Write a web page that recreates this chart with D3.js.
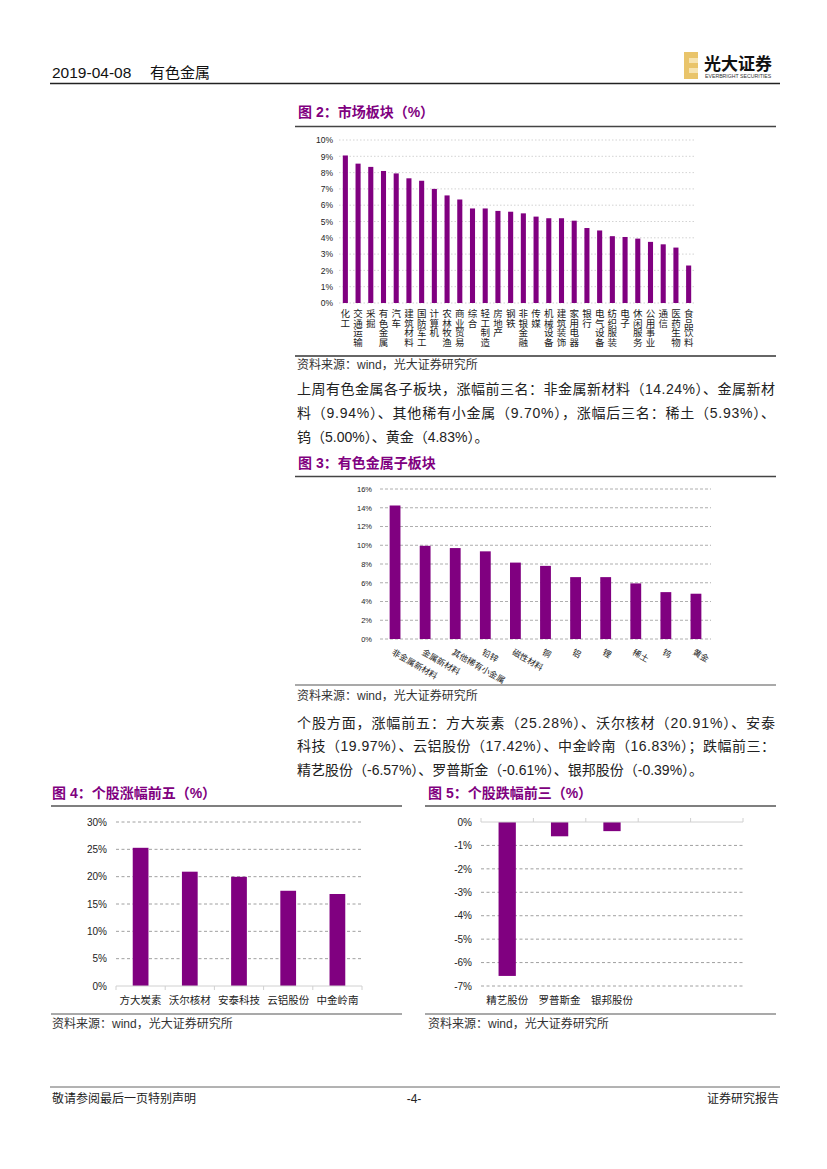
<!DOCTYPE html>
<html>
<head>
<meta charset="utf-8">
<title>有色金属 2019-04-08</title>
<script src="https://cdnjs.cloudflare.com/ajax/libs/d3/7.8.5/d3.min.js"></script>
<style>
body { margin: 0; background: #fff; }
svg text { font-family: "Liberation Sans", "Noto Sans CJK SC", sans-serif; }
</style>
</head>
<body>
<svg id="page" width="827" height="1169"></svg>
<script>
// 图2 市场板块 (%)
var sectorNames = ["化工", "交通运输", "采掘", "有色金属", "汽车", "建筑材料", "国防军工", "计算机",
  "农林牧渔", "商业贸易", "综合", "轻工制造", "房地产", "钢铁", "非银金融", "传媒", "机械设备",
  "建筑装饰", "家用电器", "银行", "电气设备", "纺织服装", "电子", "休闲服务", "公用事业", "通信",
  "医药生物", "食品饮料"];
var sectorValues = [9.05, 8.55, 8.35, 8.1, 7.95, 7.65, 7.5, 7.0, 6.6, 6.35, 5.8, 5.8, 5.65, 5.6,
  5.5, 5.3, 5.2, 5.2, 5.05, 4.6, 4.45, 4.1, 4.05, 3.95, 3.75, 3.6, 3.4, 2.3];
var sectorTicks = [0, 1, 2, 3, 4, 5, 6, 7, 8, 9, 10];

// 图3 有色金属子板块
var subNames = ["非金属新材料", "金属新材料", "其他稀有小金属", "铅锌", "磁性材料", "铜", "铝", "锂", "稀土", "钨", "黄金"];
var subValues = [14.24, 9.94, 9.70, 9.35, 8.15, 7.8, 6.6, 6.6, 5.93, 5.00, 4.83];
var subTicks = [0, 2, 4, 6, 8, 10, 12, 14, 16];

// 图4 个股涨幅前五
var gainNames = ["方大炭素", "沃尔核材", "安泰科技", "云铝股份", "中金岭南"];
var gainValues = [25.28, 20.91, 19.97, 17.42, 16.83];
var gainTicks = [0, 5, 10, 15, 20, 25, 30];

// 图5 个股跌幅前三 (two empty slots on the axis)
var lossNames = ["精艺股份", "罗普斯金", "银邦股份", "", " "];
var lossValues = [-6.57, -0.61, -0.39, null, null];
var lossTicks = [0, -1, -2, -3, -4, -5, -6, -7];

var purple = "#800080";
var svg = d3.select("#page");

// shared bar chart: grid, y labels, bars
function barChart(o) {
  var g = svg.append("g");
  var x = d3.scaleBand().domain(o.names).range([o.left, o.right]);
  var y = d3.scaleLinear().domain(o.domain).range([o.bottom, o.top]);

  g.selectAll("line.grid").data(o.ticks).enter().append("line")
    .attr("class", "grid")
    .attr("x1", o.left).attr("x2", o.right)
    .attr("y1", function(d) { return y(d); })
    .attr("y2", function(d) { return y(d); })
    .attr("stroke", o.gridColor)
    .attr("stroke-width", 0.8)
    .attr("stroke-dasharray", o.dash);

  var ax = d3.axisLeft(y).tickValues(o.ticks).tickSize(0).tickPadding(o.pad)
    .tickFormat(function(d) { return d + "%"; });
  var a = g.append("g").attr("transform", "translate(" + o.left + ",0)").call(ax);
  a.select(".domain").remove();
  a.attr("font-family", "Liberation Sans, sans-serif").attr("font-size", o.fs);
  a.selectAll("text").attr("fill", "#222");

  g.selectAll("rect.bar").data(o.values).enter().append("rect")
    .attr("class", "bar")
    .filter(function(d) { return d !== null; })
    .attr("x", function(d, i) { return x(o.names[i]) + x.bandwidth() * (1 - o.ratio) / 2; })
    .attr("width", x.bandwidth() * o.ratio)
    .attr("y", function(d) { return y(Math.max(0, d)); })
    .attr("height", function(d) { return Math.abs(y(d) - y(0)); })
    .attr("fill", purple);

  return { g: g, x: x, y: y };
}

function hline(x1, x2, yy, color, w) {
  svg.append("line").attr("x1", x1).attr("x2", x2).attr("y1", yy).attr("y2", yy)
    .attr("stroke", color).attr("stroke-width", w);
}

function title(txt, xx, yy) {
  svg.append("text").attr("x", xx).attr("y", yy).text(txt)
    .attr("font-size", 14).attr("font-weight", "bold").attr("fill", purple);
}

function source(xx, yy) {
  svg.append("text").attr("x", xx).attr("y", yy).text("资料来源：wind，光大证券研究所")
    .attr("font-size", 12).attr("fill", "#333");
}

function para(lines, xx, ys, width) {
  lines.forEach(function(t, i) {
    var el = svg.append("text").attr("x", xx).attr("y", ys[i]).text(t)
      .attr("font-size", 14).attr("fill", "#222");
    if (i < lines.length - 1) el.attr("textLength", width).attr("lengthAdjust", "spacing");
  });
}

// header
svg.append("text").attr("x", 52).attr("y", 78).text("2019-04-08")
  .attr("font-size", 15.5).attr("fill", "#111");
svg.append("text").attr("x", 150).attr("y", 78).text("有色金属")
  .attr("font-size", 15).attr("fill", "#111").attr("font-family", "Noto Sans CJK SC");
hline(50, 780, 83.5, "#222", 1.5);
// logo
svg.append("rect").attr("x", 684).attr("y", 52).attr("width", 14).attr("height", 27).attr("fill", "#E9C46A");
svg.append("rect").attr("x", 689).attr("y", 58).attr("width", 9).attr("height", 5).attr("fill", "#F6E3B0");
svg.append("rect").attr("x", 689).attr("y", 68).attr("width", 9).attr("height", 5).attr("fill", "#F6E3B0");
svg.append("text").attr("x", 704).attr("y", 70).text("光大证券")
  .attr("font-size", 17).attr("font-weight", "bold").attr("fill", "#111").attr("font-family", "Noto Sans CJK SC");
svg.append("text").attr("x", 705).attr("y", 78).text("EVERBRIGHT SECURITIES")
  .attr("font-size", 5.2).attr("fill", "#333").attr("font-family", "Liberation Serif");

// 图2
title("图 2：市场板块（%）", 298, 117);
hline(295, 776, 126.5, "#444", 1.5);
var c2 = barChart({
  names: sectorNames, values: sectorValues, ticks: sectorTicks, domain: [0, 10],
  left: 339, right: 695, top: 140, bottom: 303, ratio: 0.4, pad: 6, fs: 8.5,
  gridColor: "#c8c8c8", dash: "1.5,2"
});
sectorNames.forEach(function(n) {
  var cx = c2.x(n) + c2.x.bandwidth() / 2;
  var t = c2.g.append("text").attr("text-anchor", "middle").attr("font-size", 9.5)
    .attr("fill", "#222").attr("font-family", "Noto Sans CJK SC");
  n.split("").forEach(function(ch, k) {
    t.append("tspan").attr("x", cx).attr("y", 317 + k * 9.6).text(ch);
  });
});
hline(295, 776, 356, "#333", 1.5);
source(297, 369);

para([
  "上周有色金属各子板块，涨幅前三名：非金属新材料（14.24%）、金属新材",
  "料（9.94%）、其他稀有小金属（9.70%），涨幅后三名：稀土（5.93%）、",
  "钨（5.00%）、黄金（4.83%）。"
], 297, [394, 418, 442], 478);

// 图3
title("图 3：有色金属子板块", 298, 468);
hline(295, 776, 476.5, "#444", 1.5);
var c3 = barChart({
  names: subNames, values: subValues, ticks: subTicks, domain: [0, 16],
  left: 380, right: 711, top: 489, bottom: 639, ratio: 0.36, pad: 8, fs: 7.5,
  gridColor: "#999", dash: "3,2"
});
subNames.forEach(function(n) {
  var cx = c3.x(n) + c3.x.bandwidth() / 2 - 4;
  c3.g.append("text").attr("transform", "translate(" + cx + ",654) rotate(30)")
    .attr("font-size", 8.5).attr("fill", "#222").attr("font-family", "Noto Sans CJK SC")
    .text(n);
});
hline(295, 776, 685, "#555", 1.2);
source(297, 700);

para([
  "个股方面，涨幅前五：方大炭素（25.28%）、沃尔核材（20.91%）、安泰",
  "科技（19.97%）、云铝股份（17.42%）、中金岭南（16.83%）；跌幅前三：",
  "精艺股份（-6.57%）、罗普斯金（-0.61%）、银邦股份（-0.39%）。"
], 297, [728, 751, 775], 478);

// 图4
title("图 4：个股涨幅前五（%）", 52, 798);
hline(51, 402, 806, "#555", 1.5);
var c4 = barChart({
  names: gainNames, values: gainValues, ticks: gainTicks.slice(1), domain: [0, 30],
  left: 116, right: 362, top: 822, bottom: 986, ratio: 0.32, pad: 9, fs: 10,
  gridColor: "#888", dash: "3,2.5"
});
c4.g.append("g").attr("transform", "translate(116,0)")
  .call(d3.axisLeft(c4.y).tickValues([0]).tickSize(0).tickPadding(9).tickFormat(function(d) { return d + "%"; }))
  .attr("font-family", "Liberation Sans, sans-serif").attr("font-size", 10)
  .call(function(s) { s.select(".domain").remove(); s.selectAll("text").attr("fill", "#222"); });
hline(116, 362, 986, "#d0d0d0", 1);
c4.g.selectAll("line.tk").data(d3.range(gainNames.length + 1)).enter().append("line")
  .attr("x1", function(i) { return 116 + i * c4.x.step(); })
  .attr("x2", function(i) { return 116 + i * c4.x.step(); })
  .attr("y1", 986).attr("y2", 990).attr("stroke", "#d0d0d0");
c4.g.selectAll("text.cat").data(gainNames).enter().append("text")
  .attr("x", function(d) { return c4.x(d) + c4.x.bandwidth() / 2; })
  .attr("y", 1004).attr("text-anchor", "middle").attr("font-size", 10.5)
  .attr("fill", "#222").attr("font-family", "Noto Sans CJK SC").text(function(d) { return d; });
hline(51, 402, 1014, "#555", 1.2);
source(52, 1028);

// 图5
title("图 5：个股跌幅前三（%）", 428, 798);
hline(425, 776, 806, "#555", 1.5);
var c5 = barChart({
  names: lossNames, values: lossValues, ticks: lossTicks.slice(1), domain: [-7, 0],
  left: 481, right: 743, top: 822, bottom: 986, ratio: 0.33, pad: 9, fs: 10,
  gridColor: "#888", dash: "3,2.5"
});
c5.g.append("g").attr("transform", "translate(481,0)")
  .call(d3.axisLeft(c5.y).tickValues([0]).tickSize(0).tickPadding(9).tickFormat(function(d) { return d + "%"; }))
  .attr("font-family", "Liberation Sans, sans-serif").attr("font-size", 10)
  .call(function(s) { s.select(".domain").remove(); s.selectAll("text").attr("fill", "#222"); });
hline(481, 743, 822, "#d0d0d0", 1);
c5.g.selectAll("line.tk").data(d3.range(lossNames.length + 1)).enter().append("line")
  .attr("x1", function(i) { return 481 + i * c5.x.step(); })
  .attr("x2", function(i) { return 481 + i * c5.x.step(); })
  .attr("y1", 818).attr("y2", 822).attr("stroke", "#d0d0d0");
c5.g.selectAll("rect.bar").raise();
c5.g.selectAll("text.cat").data(lossNames.filter(function(d) { return d.trim() !== ""; })).enter().append("text")
  .attr("x", function(d) { return c5.x(d) + c5.x.bandwidth() / 2; })
  .attr("y", 1004).attr("text-anchor", "middle").attr("font-size", 10.5)
  .attr("fill", "#222").attr("font-family", "Noto Sans CJK SC").text(function(d) { return d; });
hline(425, 776, 1014, "#555", 1.2);
source(428, 1028);

// footer
hline(50, 780, 1087, "#666", 1);
svg.append("text").attr("x", 52).attr("y", 1103).text("敬请参阅最后一页特别声明")
  .attr("font-size", 12).attr("fill", "#222").attr("font-family", "Noto Sans CJK SC");
svg.append("text").attr("x", 414).attr("y", 1103).attr("text-anchor", "middle").text("-4-")
  .attr("font-size", 12).attr("fill", "#222");
svg.append("text").attr("x", 779).attr("y", 1103).attr("text-anchor", "end").text("证券研究报告")
  .attr("font-size", 12).attr("fill", "#222").attr("font-family", "Noto Sans CJK SC");
</script>
</body>
</html>
